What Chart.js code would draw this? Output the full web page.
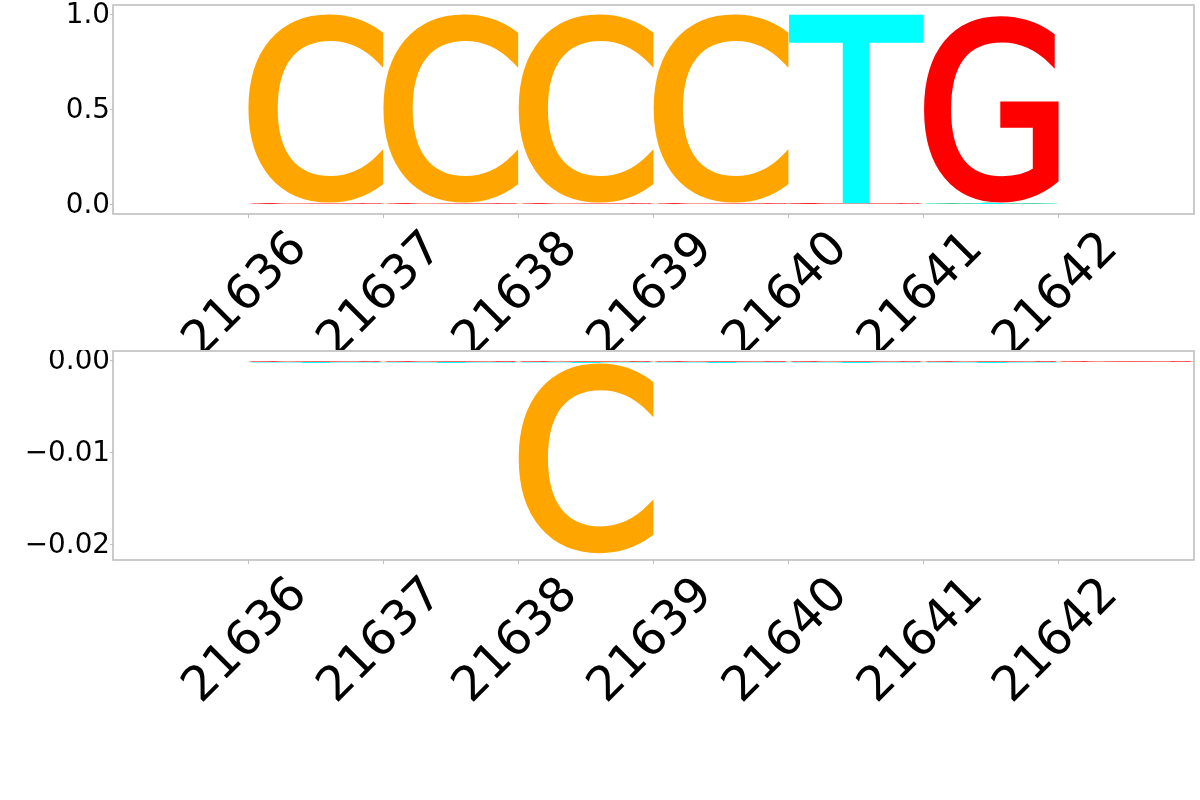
<!DOCTYPE html>
<html>
<head>
<meta charset="utf-8">
<script src="https://cdn.jsdelivr.net/npm/chart.js@4/dist/chart.umd.min.js"></script>
<style>
  html, body { margin: 0; padding: 0; background: #fff; }
  canvas { display: block; }
</style>
</head>
<body>
<canvas id="top" width="1200" height="350"></canvas>
<canvas id="bot" width="1200" height="450"></canvas>
<script>
// ---- data ----
const positions = [21636, 21637, 21638, 21639, 21640, 21641, 21642];
const letters = ['A', 'C', 'G', 'T'];
const letterColors = ['#008000', '#FFA500', '#FF0000', '#00FFFF'];

// top panel (positive contributions)
const topA = [0.002, 0.002, 0.002, 0.002, 0.001, 0.003, 0.000];
const topC = [0.993, 0.993, 0.993, 0.993, 0.002, 0.002, 0.002];
const topG = [0.003, 0.003, 0.003, 0.003, 0.004, 0.990, 0.000];
const topT = [0.002, 0.002, 0.002, 0.002, 0.993, 0.004, 0.000];

// bottom panel (negative contributions)
const botA = [-0.00005, -0.00005, -0.00005, -0.00005, -0.00005, -0.00005, 0];
const botC = [0, 0, -0.0207, 0, 0, 0, 0];
const botG = [-0.0001, -0.0001, -0.0001, -0.0001, -0.0001, -0.0001, -0.0001];
const botT = [-0.0001, -0.0001, -0.0001, -0.0001, -0.0001, -0.0001, 0];

const xRange = [21635, 21643];
const topYRange = [-0.05, 1.05];
const topYTicks = [0, 0.5, 1.0];
const topYTickLabels = ['0.0', '0.5', '1.0'];
const botYRange = [-0.02174, 0.00104];
const botYTicks = [0, -0.01, -0.02];
const botYTickLabels = ['0.00', '\u22120.01', '\u22120.02'];

// ---- glyph drawing ----
const GLYPH_WEIGHT = 6; // extra outline in glyph units (200px font)
function drawGlyph(ctx, ch, color, x0, x1, yA, yB, flip) {
  const h = yB - yA;
  if (Math.abs(h) < 1e-6 || x1 - x0 <= 0) return;
  ctx.save();
  ctx.font = '200px "DejaVu Sans"';
  ctx.textAlign = 'left';
  ctx.textBaseline = 'alphabetic';
  const m = ctx.measureText(ch);
  const L = GLYPH_WEIGHT;
  const gw = m.actualBoundingBoxLeft + m.actualBoundingBoxRight + L;
  const gh = m.actualBoundingBoxAscent + m.actualBoundingBoxDescent + L;
  const sx = (x1 - x0) / gw;
  const sy = h / gh;
  if (flip) {
    ctx.translate(x0, yB);
    ctx.scale(sx, -sy);
  } else {
    ctx.translate(x0, yA);
    ctx.scale(sx, sy);
  }
  ctx.fillStyle = color;
  ctx.strokeStyle = color;
  ctx.lineWidth = L;
  ctx.lineJoin = 'miter';
  const ox = m.actualBoundingBoxLeft + L / 2;
  const oy = m.actualBoundingBoxAscent + L / 2;
  ctx.fillText(ch, ox, oy);
  ctx.strokeText(ch, ox, oy);
  ctx.restore();
}

function logoPlugin(series) {
  return {
    id: 'logo',
    afterDatasetsDraw(chart) {
      const ctx = chart.ctx;
      const xs = chart.scales.x, ys = chart.scales.y;
      positions.forEach((p, i) => {
        const x0 = xs.getPixelForValue(p);
        const x1 = xs.getPixelForValue(p + 1);
        const items = letters.map((L, k) => ({ L, c: letterColors[k], v: series[k][i] }));
        const pos = items.filter(d => d.v > 0).sort((a, b) => a.v - b.v);
        const neg = items.filter(d => d.v < 0).sort((a, b) => b.v - a.v);
        let base = 0;
        pos.forEach(d => {
          const yLow = ys.getPixelForValue(base);
          const yHigh = ys.getPixelForValue(base + d.v);
          drawGlyph(ctx, d.L, d.c, x0, x1, yHigh, yLow, false);
          base += d.v;
        });
        base = 0;
        neg.forEach(d => {
          const yUp = ys.getPixelForValue(base);
          const yDown = ys.getPixelForValue(base + d.v);
          drawGlyph(ctx, d.L, d.c, x0, x1, yUp, yDown, true);
          base += d.v;
        });
      });
    },
    afterDraw(chart) {
      const ctx = chart.ctx;
      const a = chart.chartArea;
      ctx.save();
      ctx.strokeStyle = '#bfbfbf';
      ctx.lineWidth = 1.6;
      ctx.strokeRect(a.left, a.top, a.right - a.left, a.bottom - a.top);
      ctx.restore();
    }
  };
}

function zeroPad(s) {
  s.paddingLeft = 0; s.paddingRight = 0; s.paddingTop = 0; s.paddingBottom = 0;
}

function makeChart(id, series, yRange, yTicks, yLabels, pad, xAxisHeight) {
  return new Chart(document.getElementById(id), {
    type: 'scatter',
    data: { datasets: [] },
    options: {
      responsive: false,
      animation: false,
      layout: { padding: pad },
      plugins: { legend: { display: false }, tooltip: { enabled: false } },
      scales: {
        x: {
          type: 'linear',
          min: xRange[0], max: xRange[1],
          afterBuildTicks: s => { s.ticks = positions.map(v => ({ value: v })); },
          afterFit: s => { s.height = xAxisHeight; zeroPad(s); },
          grid: { drawOnChartArea: false, drawTicks: true, tickLength: 4, color: '#bfbfbf', tickColor: '#bfbfbf' },
          border: { display: false },
          ticks: {
            autoSkip: false,
            minRotation: 45, maxRotation: 45,
            labelOffset: 52,
            padding: 3,
            color: '#000',
            font: { family: '"DejaVu Sans"', size: 48 },
            callback: v => String(v)
          }
        },
        y: {
          type: 'linear',
          min: yRange[0], max: yRange[1],
          afterBuildTicks: s => { s.ticks = yTicks.map(v => ({ value: v })); },
          afterFit: s => { s.width = 113; zeroPad(s); },
          grid: { drawOnChartArea: false, drawTicks: true, tickLength: 3, color: '#bfbfbf', tickColor: '#bfbfbf' },
          border: { display: false },
          ticks: {
            padding: 0,
            labelOffset: 1.5,
            color: '#000',
            font: { family: '"DejaVu Sans"', size: 27.8 },
            callback: (v, i) => yLabels[i]
          }
        }
      }
    },
    plugins: [logoPlugin(series)]
  });
}

makeChart('top', [topA, topC, topG, topT], topYRange, topYTicks, topYTickLabels,
  { top: 5, right: 6, left: 0, bottom: 0 }, 136);
makeChart('bot', [botA, botC, botG, botT], botYRange, botYTicks, botYTickLabels,
  { top: 1, right: 6, left: 0, bottom: 0 }, 240);
</script>
</body>
</html>
